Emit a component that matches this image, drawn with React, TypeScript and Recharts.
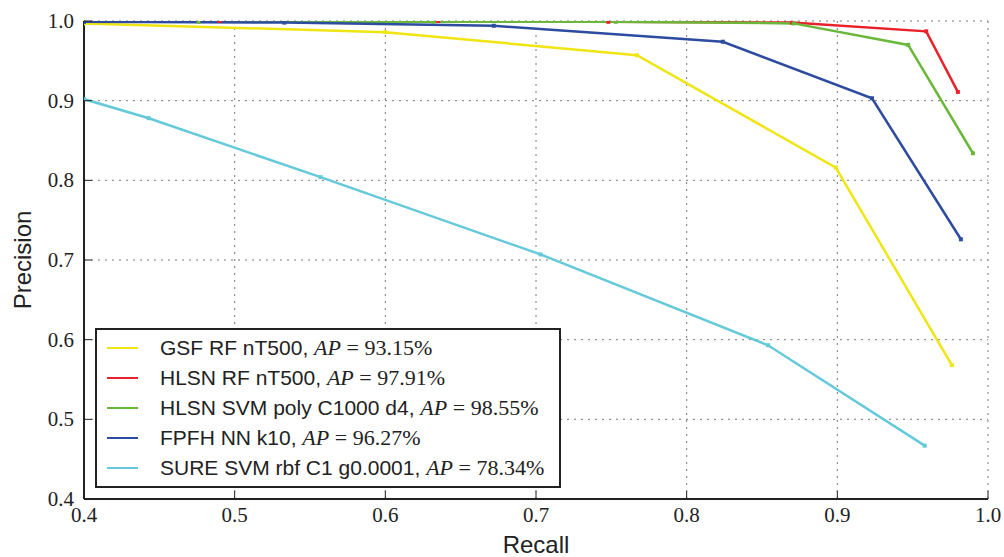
import { LineChart, Line, XAxis, YAxis, CartesianGrid, Legend } from "recharts";

const xTicks = [0.4, 0.5, 0.6, 0.7, 0.8, 0.9, 1.0];
const yTicks = [0.4, 0.5, 0.6, 0.7, 0.8, 0.9, 1.0];

const gsfRecall = [0.4, 0.6, 0.767, 0.899, 0.976];
const gsfPrecision = [0.997, 0.986, 0.957, 0.816, 0.568];

const hlsnRfRecall = [0.4, 0.49, 0.635, 0.748, 0.87, 0.959, 0.98];
const hlsnRfPrecision = [1.0, 1.0, 1.0, 0.999, 0.998, 0.987, 0.911];

const hlsnSvmRecall = [0.4, 0.476, 0.632, 0.753, 0.871, 0.947, 0.99];
const hlsnSvmPrecision = [0.999, 0.999, 0.999, 0.999, 0.997, 0.97, 0.834];

const fpfhRecall = [0.4, 0.533, 0.672, 0.824, 0.923, 0.982];
const fpfhPrecision = [0.999, 0.998, 0.994, 0.974, 0.903, 0.726];

const sureRecall = [0.4, 0.443, 0.557, 0.703, 0.854, 0.958];
const surePrecision = [0.902, 0.878, 0.804, 0.707, 0.593, 0.467];

const names = [
  "GSF RF nT500",
  "HLSN RF nT500",
  "HLSN SVM poly C1000 d4",
  "FPFH NN k10",
  "SURE SVM rbf C1 g0.0001",
];
const apValues = ["93.15%", "97.91%", "98.55%", "96.27%", "78.34%"];
const colors = ["#efe512", "#e8212a", "#6ab83a", "#2d4b9f", "#64c9da"];

const zip = (r: number[], p: number[]) => r.map((v, i) => ({ recall: v, precision: p[i] }));

const series = [
  zip(gsfRecall, gsfPrecision),
  zip(hlsnRfRecall, hlsnRfPrecision),
  zip(hlsnSvmRecall, hlsnSvmPrecision),
  zip(fpfhRecall, fpfhPrecision),
  zip(sureRecall, surePrecision),
];

const SERIF = "'Liberation Serif', 'DejaVu Serif', serif";
const SANS = "'Liberation Sans', Arial, sans-serif";

const BottomTick = ({ x, y, payload }: any) => (
  <g>
    <line x1={x} y1={y} x2={x} y2={y - 8} stroke="#222" strokeWidth={1} />
    <text x={x} y={y + 23} textAnchor="middle" fontFamily={SERIF} fontSize={21} fill="#222">
      {payload.value.toFixed(1)}
    </text>
  </g>
);

const TopTick = ({ x, y }: any) => (
  <line x1={x} y1={y} x2={x} y2={y + 8} stroke="#222" strokeWidth={1} />
);

const LeftTick = ({ x, y, payload }: any) => (
  <g>
    <line x1={x} y1={y} x2={x + 8} y2={y} stroke="#222" strokeWidth={1} />
    <text x={x - 10} y={y + 7} textAnchor="end" fontFamily={SERIF} fontSize={21} fill="#222">
      {payload.value.toFixed(1)}
    </text>
  </g>
);

const RightTick = ({ x, y }: any) => (
  <line x1={x} y1={y} x2={x - 8} y2={y} stroke="#222" strokeWidth={1} />
);

const LegendBox = () => (
  <div
    style={{
      border: "2px solid #222",
      background: "#fff",
      boxSizing: "border-box",
      width: 466,
      height: 160,
      paddingTop: 3,
    }}
  >
    {names.map((n, i) => (
      <div key={n} style={{ height: 30, display: "flex", alignItems: "center", whiteSpace: "nowrap" }}>
        <div style={{ width: 31, height: 2, background: colors[i], marginLeft: 10, marginRight: 22 }} />
        <span style={{ fontFamily: SANS, fontSize: 21, color: "#222" }}>{n},&nbsp;</span>
        <span style={{ fontFamily: SERIF, fontSize: 22, fontStyle: "italic", color: "#222" }}>AP</span>
        <span style={{ fontFamily: SERIF, fontSize: 22, color: "#222" }}>&nbsp;=&nbsp;{apValues[i]}</span>
      </div>
    ))}
  </div>
);

export default function App() {
  return (
    <div style={{ position: "absolute", left: 0, top: 0, background: "#fff" }}>
      <LineChart width={1004} height={557} margin={{ top: 21, right: 16, left: 0, bottom: 0 }}>
        <CartesianGrid xAxisId="b" yAxisId="l" stroke="#777" strokeDasharray="2 5" strokeWidth={1} />
        <XAxis
          xAxisId="b"
          dataKey="recall"
          type="number"
          domain={[0.4, 1.0]}
          ticks={xTicks}
          allowDataOverflow
          height={58}
          tickSize={0}
          tickMargin={0}
          tickLine={false}
          tick={<BottomTick />}
          axisLine={{ stroke: "#222", strokeWidth: 2 }}
          label={{ value: "Recall", position: "insideBottom", offset: 4, fontFamily: SANS, fontSize: 24, fill: "#222" }}
        />
        <XAxis
          xAxisId="t"
          orientation="top"
          type="number"
          domain={[0.4, 1.0]}
          ticks={xTicks}
          allowDataOverflow
          height={0}
          tickSize={0}
          tickMargin={0}
          tickLine={false}
          tick={<TopTick />}
          axisLine={{ stroke: "#222", strokeWidth: 2 }}
        />
        <YAxis
          yAxisId="l"
          type="number"
          domain={[0.4, 1.0]}
          ticks={yTicks}
          allowDataOverflow
          width={84}
          tickSize={0}
          tickMargin={0}
          tickLine={false}
          tick={<LeftTick />}
          axisLine={{ stroke: "#222", strokeWidth: 2 }}
          label={{ value: "Precision", angle: -90, position: "insideLeft", offset: 22, fontFamily: SANS, fontSize: 24, fill: "#222", style: { textAnchor: "middle" } }}
        />
        <YAxis
          yAxisId="r"
          orientation="right"
          type="number"
          domain={[0.4, 1.0]}
          ticks={yTicks}
          allowDataOverflow
          width={0}
          tickSize={0}
          tickMargin={0}
          tickLine={false}
          tick={<RightTick />}
          axisLine={{ stroke: "#222", strokeWidth: 2 }}
        />
        {series.map((d, i) => (
          <Line
            key={names[i]}
            xAxisId="b"
            yAxisId="l"
            data={d}
            dataKey="precision"
            name={names[i]}
            stroke={colors[i]}
            strokeWidth={2.5}
            isAnimationActive={false}
            dot={(p: any) => (
              <rect key={`${i}-${p.index}`} x={p.cx - 2} y={p.cy - 2} width={4} height={4} fill={colors[i]} />
            )}
            activeDot={false}
          />
        ))}
        <Legend
          layout="vertical"
          align="center"
          verticalAlign="middle"
          wrapperStyle={{ left: 95, top: 328, width: 466, height: 160 }}
          content={() => <LegendBox />}
        />
      </LineChart>
    </div>
  );
}
